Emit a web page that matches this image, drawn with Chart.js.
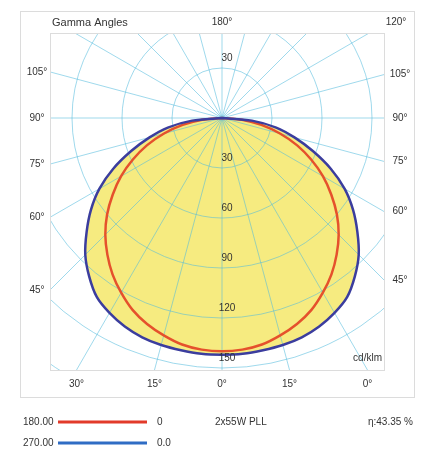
<!DOCTYPE html>
<html lang="en">
<head>
    <meta charset="UTF-8">
    <title>Gamma Angles</title>
    <style>
        body { margin: 0; background: #fff; }
        canvas { display: block; }
    </style>
</head>
<body>
    <canvas id="polarChart" width="422" height="450"></canvas>

    <script src="https://cdn.jsdelivr.net/npm/chart.js"></script>
    <script>
        // gamma angles (deg, 0 = straight down) and intensities in cd/klm
        const gammaAngles = [0, 5, 10, 15, 20, 25, 30, 35, 40, 45, 50, 55, 60, 65, 70, 75, 80, 85, 90];
        const plane0 = [140, 139.5, 138, 135, 131.5, 127, 121, 114.5, 107, 99, 90, 80, 70, 59, 48, 36, 24, 12, 0];
        const plane90 = [142, 142, 141.5, 141, 140, 138, 135, 131, 124, 116, 106, 96, 85, 72, 58, 45, 33, 18, 0];

        // grid + labels
        const gridCircles = [30, 60, 90, 120, 150, 180];
        const radialTicks = [30, 60, 90, 120, 150];
        const sideAngles = [105, 90, 75, 60, 45];
        const sideLabels = ['105°', '90°', '75°', '60°', '45°'];
        const bottomAngles = [-30, -15, 0, 15, 30];
        const bottomLabels = ['30°', '15°', '0°', '15°', '0°'];

        // turn (gamma, I) into x/y, left half then right half
        function toPoints(values) {
            const pts = [];
            for (let i = gammaAngles.length - 1; i >= 0; i--) {
                const g = gammaAngles[i] * Math.PI / 180;
                pts.push({ x: -values[i] * Math.sin(g), y: -values[i] * Math.cos(g) });
            }
            for (let i = 1; i < gammaAngles.length; i++) {
                const g = gammaAngles[i] * Math.PI / 180;
                pts.push({ x: values[i] * Math.sin(g), y: -values[i] * Math.cos(g) });
            }
            return pts;
        }

        const TEXT = '#333';
        const FONT = '10px "Liberation Sans", Arial, sans-serif';

        const polarGrid = {
            id: 'polarGrid',
            beforeDatasetsDraw(chart) {
                const { ctx, chartArea: a, scales: { x, y } } = chart;
                const cx = x.getPixelForValue(0);
                const cy = y.getPixelForValue(0);
                ctx.save();
                ctx.beginPath();
                ctx.rect(a.left, a.top, a.right - a.left, a.bottom - a.top);
                ctx.clip();
                ctx.strokeStyle = 'rgba(80, 185, 220, 0.55)';
                ctx.lineWidth = 1;
                gridCircles.forEach(v => {
                    const r = x.getPixelForValue(v) - cx;
                    ctx.beginPath();
                    ctx.arc(cx, cy, r, 0, Math.PI * 2);
                    ctx.stroke();
                });
                for (let deg = 0; deg < 360; deg += 15) {
                    const t = deg * Math.PI / 180;
                    ctx.beginPath();
                    ctx.moveTo(cx, cy);
                    ctx.lineTo(cx + 500 * Math.sin(t), cy + 500 * Math.cos(t));
                    ctx.stroke();
                }
                ctx.restore();
            },
            afterDraw(chart) {
                const { ctx, chartArea: a, scales: { x, y } } = chart;
                const cx = x.getPixelForValue(0);
                const cy = y.getPixelForValue(0);
                ctx.save();

                // frames
                ctx.strokeStyle = '#dcdcdc';
                ctx.lineWidth = 1;
                ctx.strokeRect(a.left + 0.5, a.top + 0.5, a.right - a.left, a.bottom - a.top);
                ctx.strokeRect(20.5, 11.5, 394, 386);

                ctx.fillStyle = TEXT;
                ctx.font = FONT;
                ctx.textAlign = 'center';
                ctx.textBaseline = 'middle';

                // radial values
                const up = y.getPixelForValue(radialTicks[0]);
                ctx.fillText(String(radialTicks[0]), cx + 5, up - 10);
                radialTicks.forEach(v => {
                    ctx.fillText(String(v), cx + 5, y.getPixelForValue(-v) - 10);
                });

                // angle labels on the sides, at the radial line exits
                sideAngles.forEach((deg, i) => {
                    const t = deg * Math.PI / 180;
                    const yy = cy + (cx - a.left) * Math.cos(t) / Math.sin(t);
                    ctx.fillText(sideLabels[i], a.left - 13, yy);
                    const yr = cy + (a.right - cx) * Math.cos(t) / Math.sin(t);
                    ctx.fillText(sideLabels[i], a.right + 16, yr);
                });
                bottomAngles.forEach((deg, i) => {
                    const t = deg * Math.PI / 180;
                    ctx.fillText(bottomLabels[i], cx + (a.bottom - cy) * Math.tan(t), a.bottom + 14);
                });
                ctx.fillText('180°', cx, a.top - 11);
                ctx.fillText('120°', a.right + 12, a.top - 11);
                ctx.textAlign = 'left';
                ctx.font = '11px "Liberation Sans", Arial, sans-serif';
                ctx.fillText('Gamma Angles', a.left + 2, a.top - 10);
                ctx.font = FONT;
                ctx.textAlign = 'right';
                ctx.fillText('cd/klm', a.right - 2, a.bottom - 12);

                // legend
                const rows = [
                    { name: '180.00', end: '0', color: '#e23a2a', yy: 422 },
                    { name: '270.00', end: '0.0', color: '#2f6cc4', yy: 443 }
                ];
                rows.forEach(r => {
                    ctx.textAlign = 'left';
                    ctx.fillStyle = TEXT;
                    ctx.fillText(r.name, 23, r.yy);
                    ctx.fillText(r.end, 157, r.yy);
                    ctx.strokeStyle = r.color;
                    ctx.lineWidth = 3;
                    ctx.beginPath();
                    ctx.moveTo(58, r.yy);
                    ctx.lineTo(147, r.yy);
                    ctx.stroke();
                });
                ctx.fillStyle = TEXT;
                ctx.textAlign = 'left';
                ctx.fillText('2x55W PLL', 215, 422);
                ctx.textAlign = 'right';
                ctx.fillText('η:43.35 %', 413, 422);
                ctx.restore();
            }
        };

        new Chart(document.getElementById('polarChart'), {
            type: 'scatter',
            data: {
                datasets: [
                    {
                        label: 'C90-C270',
                        data: toPoints(plane90),
                        showLine: true,
                        borderColor: '#3b3d9e',
                        borderWidth: 2.5,
                        backgroundColor: '#f6eb80',
                        fill: 'shape',
                        pointRadius: 0,
                        tension: 0.3
                    },
                    {
                        label: 'C0-C180',
                        data: toPoints(plane0),
                        showLine: true,
                        borderColor: '#e5512c',
                        borderWidth: 2.5,
                        fill: false,
                        pointRadius: 0,
                        tension: 0.3
                    }
                ]
            },
            options: {
                responsive: false,
                animation: false,
                devicePixelRatio: 1,
                layout: { padding: { left: 50, right: 38, top: 33, bottom: 80 } },
                scales: {
                    x: { type: 'linear', display: false, min: -103.2, max: 97.2 },
                    y: { type: 'linear', display: false, min: -151.2, max: 51 }
                },
                plugins: {
                    legend: { display: false },
                    tooltip: { enabled: false },
                    filler: { drawTime: 'beforeDatasetsDraw' }
                }
            },
            plugins: [polarGrid]
        });
    </script>
</body>
</html>
